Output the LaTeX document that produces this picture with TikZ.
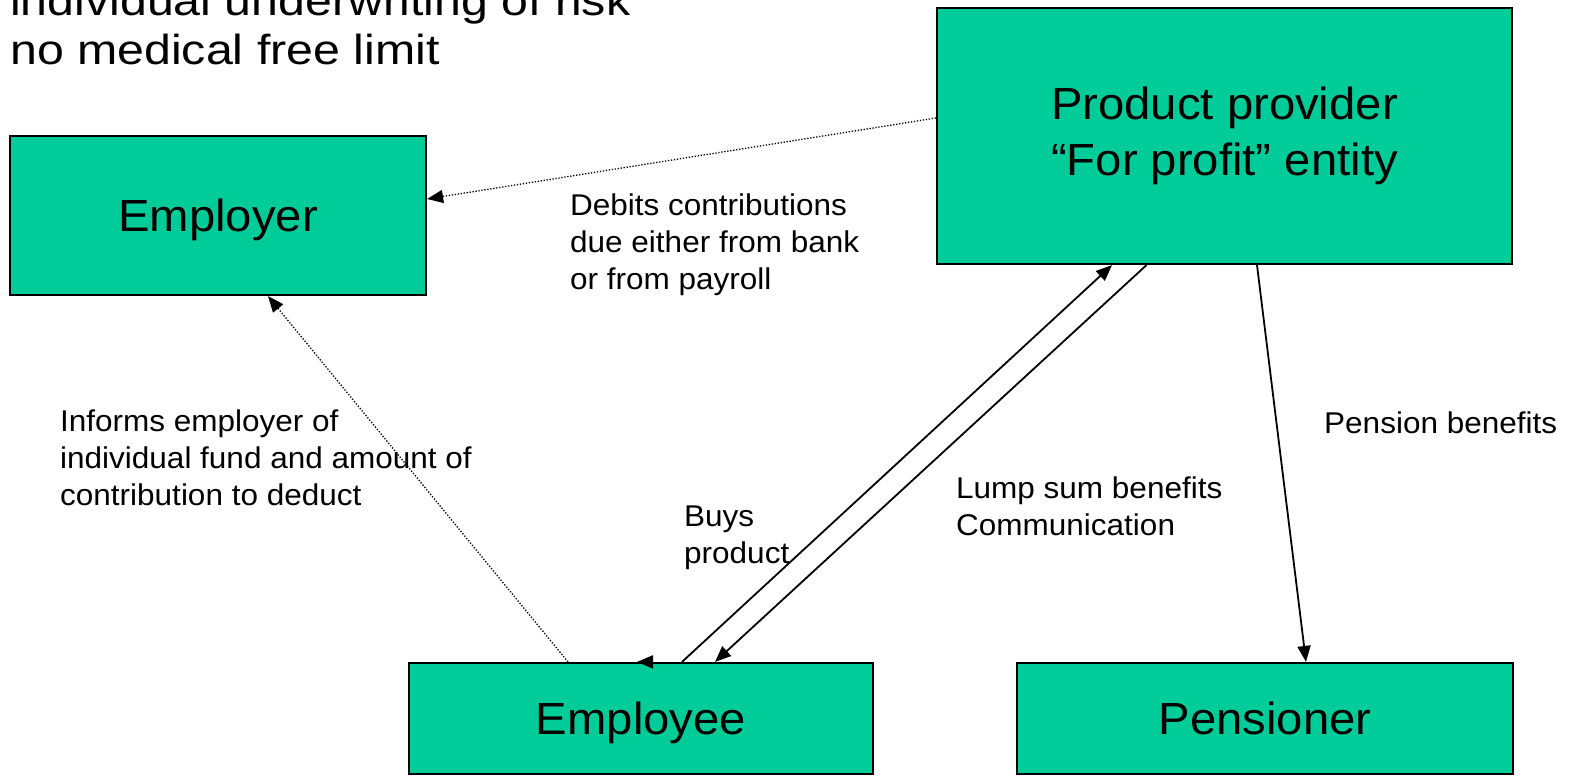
\documentclass[tikz,border=0pt]{standalone}
\usepackage{fontspec}
\setmainfont{Liberation Sans}[FakeStretch=1.05]
\newfontfamily\headfont{Liberation Sans}[FakeStretch=1.15]
\usetikzlibrary{arrows.meta}
\definecolor{boxgreen}{RGB}{0,204,153}

\begin{document}
\begin{tikzpicture}[x=1pt,y=-1pt,
    party/.style={draw,line width=2.2pt,fill=boxgreen,inner sep=0pt,align=center,font=\fontsize{45}{56}\selectfont},
    note/.style={inner sep=0pt,anchor=north west,align=left,font=\fontsize{30}{37}\selectfont},
    flow/.style={line width=1.8pt,-{Triangle[length=16pt,width=13pt]}},
    dotflow/.style={line width=1.3pt,dash pattern=on 1.3pt off 1.7pt,-{Triangle[length=16pt,width=13pt]}}]
    \useasboundingbox (0,0) rectangle (1570,776);
    \clip (0,0) rectangle (1570,776);

    \node[note,font=\headfont\fontsize{42}{49}\selectfont] (HEAD) at (10,-15) {individual underwriting of risk\\no medical free limit};

    \node[party,minimum width=416pt,minimum height=159pt,text depth=0pt] (ER) at (218,215.5) {Employer};
    \node[party,minimum width=575pt,minimum height=256pt] (PP) at (1224.5,136) {Product provider\\“For profit” entity};
    \node[party,minimum width=464pt,minimum height=111pt,text depth=0pt] (EE) at (641,718.5) {Employee};
    \node[party,minimum width=496pt,minimum height=111pt] (PN) at (1265,718.5) {Pensioner};

    \path[draw,dotflow] ([yshift=18pt]PP.west) -- ([yshift=16.5pt]ER.east);
    \path[draw,dotflow] ([xshift=-73pt]EE.north) -- ([xshift=50pt]ER.south);
    \path[draw,flow] ([xshift=41pt]EE.north) -- ([xshift=-112.5pt]PP.south);
    \path[draw,flow] ([xshift=-78pt]PP.south) -- ([xshift=74pt]EE.north);
    \path[draw,flow] ([xshift=32.5pt]PP.south) -- ([xshift=41pt]PN.north);
    \path[draw,flow] ([xshift=9pt]EE.north) -- ([xshift=-4pt]EE.north);

    \node[note] (DEB) at (570,194) {Debits contributions\\due either from bank\\or from payroll};
    \node[note] (INF) at (60,410) {Informs employer of\\individual fund and amount of\\contribution to deduct};
    \node[note] (BUY) at (684,506) {Buys\\product};
    \node[note] (LUMP) at (956,477) {Lump sum benefits\\Communication};
    \node[note] (PEN) at (1324,412) {Pension benefits};
\end{tikzpicture}
\end{document}
